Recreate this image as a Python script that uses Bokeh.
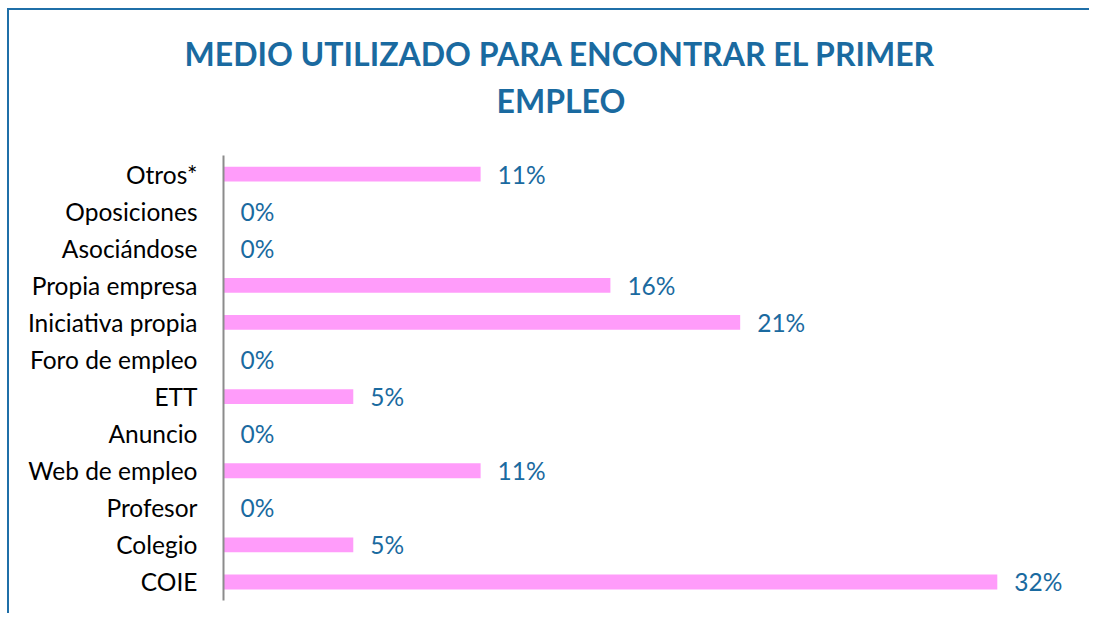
from bokeh.plotting import figure
from bokeh.models import Range1d, FactorRange, ColumnDataSource, Title
from bokeh.embed import file_html
from bokeh.resources import INLINE
from bokeh.core.properties import value

categories = ["Otros*", "Oposiciones", "Asociándose", "Propia empresa", "Iniciativa propia",
              "Foro de empleo", "ETT", "Anuncio", "Web de empleo", "Profesor", "Colegio", "COIE"]
values = [10.5, 0, 0, 15.8, 21.1, 0, 5.3, 0, 10.5, 0, 5.3, 31.6]
labels = ["11%", "0%", "0%", "16%", "21%", "0%", "5%", "0%", "11%", "0%", "5%", "32%"]
title_lines = ["MEDIO UTILIZADO PARA ENCONTRAR EL PRIMER", "EMPLEO"]

FONT = "Lato"
BLUE = "#1a6aa0"
PINK = "#ff9cfa"

src = ColumnDataSource(dict(cat=categories, val=values, lab=labels))

p = figure(width=1082, height=605, output_backend="svg", toolbar_location=None,
           y_range=FactorRange(*reversed(categories), range_padding=0),
           x_range=Range1d(0, 34.63),
           min_border_left=214, min_border_right=20, min_border_top=145, min_border_bottom=15)
p.styles = {"border-left": "2px solid #1f6fa8", "border-top": "2px solid #1f6fa8",
            "margin-left": "7px", "margin-top": "8px"}

p.hbar(y="cat", right="val", left=0, height=0.4, source=src, color=PINK, line_color=None)
p.text(x="val", y="cat", text="lab", source=src, x_offset=17, text_baseline="middle",
       text_align="left", text_font=value(FONT), text_font_size="24.5px", text_color=BLUE)

p.xaxis.visible = False
p.xgrid.visible = False
p.ygrid.visible = False
p.outline_line_color = None
ya = p.yaxis[0]
ya.axis_line_color = "#8c8c8c"
ya.axis_line_width = 2
ya.major_tick_line_color = None
ya.minor_tick_line_color = None
ya.major_label_standoff = 20
ya.major_label_text_font = FONT
ya.major_label_text_font_size = "24.5px"
ya.major_label_text_color = "#000000"

t2 = Title(text=title_lines[1], align="left", offset=273, text_font=FONT, text_font_size="32px",
           text_font_style="bold", text_color=BLUE, standoff=71)
t1 = Title(text=title_lines[0], align="left", offset=-39, text_font=FONT, text_font_size="32px",
           text_font_style="bold", text_color=BLUE, standoff=-59)
p.add_layout(t2, "above")
p.add_layout(t1, "above")

open("out.html", "w").write(file_html(p, INLINE))
